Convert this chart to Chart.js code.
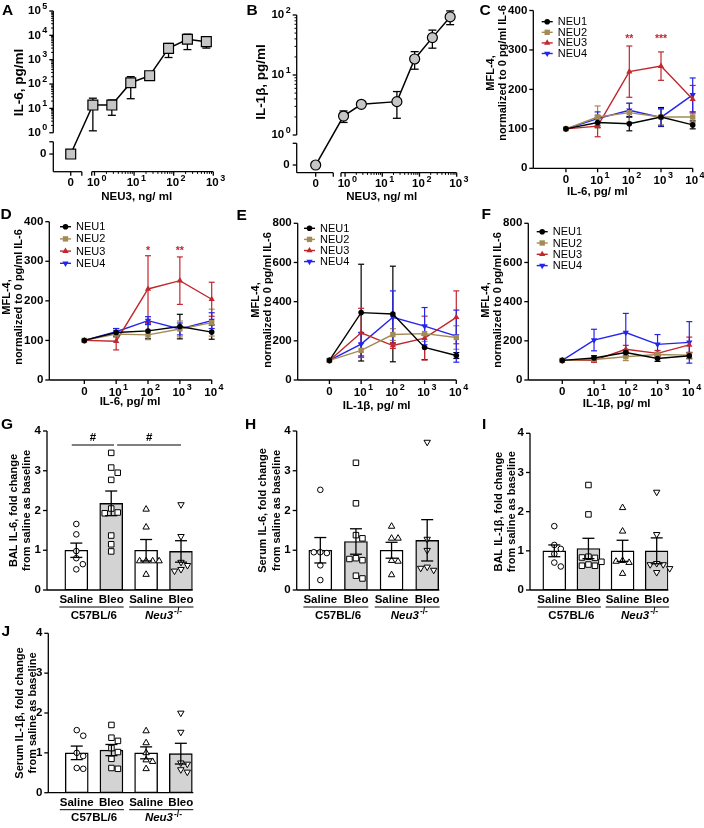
<!DOCTYPE html>
<html>
<head>
<meta charset="utf-8">
<title>NEU3 and cytokines</title>
<script src="https://cdn.jsdelivr.net/npm/chart.js@4.4.1/dist/chart.umd.min.js"></script>
<style>
  html, body { margin: 0; padding: 0; background: #fff; }
  #wrap { position: relative; width: 704px; height: 828px; overflow: hidden; background: #fff; }
  #wrap canvas { position: absolute; left: 0; top: 0; }
</style>
</head>
<body>
<div id="wrap"></div>
<script>
// ---------- values ----------

// A, B: cytokine release vs NEU3 (ng/ml); the 0 dose sits on the broken part of the axes
const neu3Conc = [0, 0.91, 2.74, 8.23, 24.7, 74.1, 222, 667];
const il6Mean  = [0, 13.7, 13.7, 113, 220, 2930, 6900, 5500];
const il6Sem   = [0, 12.5, 8.5, 88, 20, 1700, 4300, 2500];
const il1bConc = [0, 0.91, 2.74, 24.7, 74.1, 222, 667];
const il1bMean = [0, 2.07, 3.25, 3.6, 18.5, 42, 93];
const il1bSem  = [0, 0.45, 0.2, 1.7, 6, 14, 24];
const aYExp = [0, 1, 2, 3, 4, 5];
const bYExp = [0, 1, 2];
const abXExp = [0, 1, 2, 3];

// C-F: MFL-4 signal, doses 0, 10^1 .. 10^4 pg/ml
const doseExp = [null, 1, 2, 3, 4];
const neuNames = ['NEU1', 'NEU2', 'NEU3', 'NEU4'];

const cNeu1 = [100, 116, 113, 130, 110], cNeu1Sem = [0, 12, 18, 24, 10];
const cNeu2 = [100, 130, 141, 130, 130], cNeu2Sem = [0, 28, 24, 20, 13];
const cNeu3 = [100, 107, 245, 259, 175], cNeu3Sem = [0, 27, 65, 36, 35];
const cNeu4 = [100, 126, 147, 129, 186], cNeu4Sem = [0, 17, 18, 22, 43];
const cStars = ['', '', '**', '***', ''];

const dNeu1 = [100, 120, 124, 135, 121], dNeu1Sem = [0, 10, 20, 31, 18];
const dNeu2 = [100, 116, 114, 129, 145], dNeu2Sem = [0, 8, 12, 20, 34];
const dNeu3 = [100, 98, 230, 251, 204], dNeu3Sem = [0, 22, 84, 60, 43];
const dNeu4 = [100, 122, 150, 129, 150], dNeu4Sem = [0, 8, 10, 15, 20];
const dStars = ['', '', '*', '**', ''];

const eNeu1 = [100, 344, 337, 166, 125], eNeu1Sem = [0, 247, 244, 62, 15];
const eNeu2 = [100, 151, 232, 237, 217], eNeu2Sem = [0, 35, 30, 40, 60];
const eNeu3 = [100, 241, 176, 214, 320], eNeu3Sem = [0, 125, 15, 112, 135];
const eNeu4 = [100, 183, 320, 275, 224], eNeu4Sem = [0, 60, 135, 95, 133];

const fNeu1 = [100, 112, 140, 110, 124], fNeu1Sem = [0, 12, 15, 15, 15];
const fNeu2 = [100, 105, 119, 130, 127], fNeu2Sem = [0, 10, 20, 12, 15];
const fNeu3 = [100, 100, 157, 136, 179], fNeu3Sem = [0, 10, 20, 15, 40];
const fNeu4 = [100, 204, 242, 182, 192], fNeu4Sem = [0, 55, 98, 50, 106];

// G-J: fold change from saline; groups Saline/Bleo in C57BL/6 and Neu3-/-
const groupNames = ['Saline', 'Bleo', 'Saline', 'Bleo'];
const foldTicks = [0, 1, 2, 3, 4];

const gSal    = [1.66, 1.40, 0.98, 0.80, 0.65, 0.52];
const gBleo   = [3.45, 3.08, 2.95, 2.77, 2.05, 1.95, 1.93, 1.37, 1.15, 0.97];
const gKoSal  = [2.03, 1.58, 0.73, 0.73, 0.73, 0.73, 0.39];
const gKoBleo = [2.15, 1.35, 0.70, 0.62, 0.52, 0.48];
const gMean = [1.0, 2.18, 1.0, 0.97], gSem = [0.18, 0.31, 0.27, 0.27];

const hSal    = [2.52, 0.95, 0.93, 0.95, 0.62, 0.25];
const hBleo   = [3.2, 2.18, 1.38, 1.30, 0.80, 0.75, 0.78, 0.36, 0.29];
const hKoSal  = [1.6, 1.3, 1.3, 0.74, 0.72, 0.38];
const hKoBleo = [3.72, 1.28, 1.0, 0.58, 0.5, 0.55];
const hMean = [1.0, 1.22, 1.0, 1.25], hSem = [0.32, 0.32, 0.2, 0.52];

const iSal    = [1.63, 1.15, 1.05, 0.92, 0.70, 0.60];
const iBleo   = [2.68, 1.93, 0.85, 0.82, 0.83, 0.72, 0.65, 0.62, 0.62];
const iKoSal  = [2.1, 1.5, 0.75, 0.70, 0.73, 0.42];
const iKoBleo = [2.5, 1.42, 0.68, 0.65, 0.65, 0.45, 0.55];
const iMean = [1.0, 1.06, 1.0, 1.0], iSem = [0.15, 0.26, 0.27, 0.33];

const jSal    = [1.57, 1.43, 1.0, 0.92, 0.62, 0.6];
const jBleo   = [1.7, 1.38, 1.3, 1.12, 1.02, 0.85, 0.62, 0.6];
const jKoSal  = [1.55, 1.25, 1.0, 0.82, 0.78, 0.6];
const jKoBleo = [2.0, 1.52, 0.75, 0.72, 0.58, 0.52];
const jMean = [1.0, 1.07, 1.0, 0.98], jSem = [0.17, 0.14, 0.15, 0.26];

// ---------- styles & layout ----------
const W = 704, H = 828;
const FONT = '"Liberation Sans", Arial, Helvetica, sans-serif';
const neuColors = ['#000000', '#a38b57', '#c1272d', '#2424ee'];
const neuShapes = [['circle', 0, 2.8], ['rect', 0, 3.8], ['triangle', 0, 3.6], ['triangle', 180, 3.6]];
const groupShapes = [['circle', 0, 2.8], ['rect', 0, 3.9], ['triangle', 0, 3.7], ['triangle', 180, 3.7]];

const LA = {l: 53.3, r: 213.3, t: 11, b: 171.7, xMin: -1.04, xMax: 3, xZero: -0.6, yMin: -1.6, yMax: 5, yZero: -0.875, xGap: [-0.32, -0.07], yGap: [-0.37, 0]};
const LB = {l: 296.7, r: 456.7, t: 15, b: 172.7, xMin: -1.30, xMax: 3, xZero: -0.79, yMin: -0.628, yMax: 2, yZero: -0.5, xGap: [-0.317, -0.11], yGap: [-0.138, 0]};
const LC = {l: 533.3, r: 692.7, t: 10.5, b: 168.3, xMin: -1.03, yMax: 400, yStep: 100};
const LD = {l: 49.3, r: 211.7, t: 221.7, b: 380, xMin: -1.10, yMax: 400, yStep: 100};
const LE = {l: 297.7, r: 456.3, t: 223.3, b: 380, xMin: -1.0, yMax: 800, yStep: 200};
const LF = {l: 528.3, r: 689.3, t: 223.3, b: 380, xMin: -1.07, yMax: 800, yStep: 200};
const LG = {l: 47, r: 192.7, t: 431, b: 590, xMin: -0.84, xMax: 3.335};
const LH = {l: 296.7, r: 439.3, t: 431, b: 590, xMin: -0.663, xMax: 3.34};
const LI = {l: 530, r: 668.3, t: 433.3, b: 590, xMin: -0.712, xMax: 3.34};
const LJ = {l: 48.3, r: 193.3, t: 633.3, b: 792.7, xMin: -0.82, xMax: 3.36};

// ---------- helpers ----------
function fnt(size, weight, style) { return (style || 'normal') + ' ' + (weight || 'bold') + ' ' + size + 'px ' + FONT; }

function makeCanvas() {
  const c = document.createElement('canvas');
  c.width = W; c.height = H;
  document.getElementById('wrap').appendChild(c);
  return c;
}

function baseOptions(L, xr, yr) {
  return {
    responsive: false, animation: false, devicePixelRatio: 1, events: [],
    layout: {padding: {left: L.l, top: L.t, right: W - L.r, bottom: H - L.b}},
    plugins: {legend: {display: false}, tooltip: {enabled: false}},
    scales: {
      x: {type: 'linear', display: false, offset: false, min: xr[0], max: xr[1]},
      y: {type: 'linear', display: false, min: yr[0], max: yr[1]}
    }
  };
}

function seg(ctx, x1, y1, x2, y2) { ctx.beginPath(); ctx.moveTo(x1, y1); ctx.lineTo(x2, y2); ctx.stroke(); }

function text(ctx, s, x, y, o) {
  o = o || {};
  ctx.save();
  ctx.font = fnt(o.size || 11.5, o.weight, o.style);
  ctx.fillStyle = o.color || '#000';
  ctx.textAlign = o.align || 'center';
  ctx.textBaseline = o.base || 'middle';
  ctx.translate(x, y);
  if (o.rot) ctx.rotate(o.rot);
  ctx.fillText(s, 0, 0);
  ctx.restore();
}

function letter(ctx, s, x, y) { text(ctx, s, x, y, {size: 15.5, align: 'left', base: 'alphabetic'}); }

function pow10(ctx, e, x, y, align, size) {
  ctx.save();
  ctx.fillStyle = '#000'; ctx.textBaseline = 'middle'; ctx.textAlign = 'left';
  ctx.font = fnt(size);
  const wb = ctx.measureText('10').width;
  const es = size * 0.78;
  ctx.font = fnt(es);
  const we = ctx.measureText(String(e)).width;
  const x0 = align === 'right' ? x - wb - 1.5 - we : x - wb / 2 - 1;
  ctx.font = fnt(size); ctx.fillText('10', x0, y);
  ctx.font = fnt(es); ctx.fillText(String(e), x0 + wb + 1.5, y - size * 0.42);
  ctx.restore();
}

function errBar(ctx, x, yHi, yLo, cap, color, lw) {
  ctx.save();
  ctx.strokeStyle = color; ctx.lineWidth = lw;
  seg(ctx, x, yHi, x, yLo);
  seg(ctx, x - cap / 2, yHi, x + cap / 2, yHi);
  seg(ctx, x - cap / 2, yLo, x + cap / 2, yLo);
  ctx.restore();
}

function marker(ctx, shape, x, y, fill, stroke, lw) {
  const r = shape[2];
  ctx.save();
  ctx.translate(x, y); ctx.rotate(shape[1] * Math.PI / 180);
  ctx.beginPath();
  if (shape[0] === 'circle') ctx.arc(0, 0, r, 0, Math.PI * 2);
  else if (shape[0] === 'rect') { const s = r * Math.SQRT1_2; ctx.rect(-s, -s, 2 * s, 2 * s); }
  else { ctx.moveTo(0, -r); ctx.lineTo(r * 0.866, r * 0.5); ctx.lineTo(-r * 0.866, r * 0.5); ctx.closePath(); }
  ctx.fillStyle = fill; ctx.fill();
  if (lw) { ctx.strokeStyle = stroke; ctx.lineWidth = lw; ctx.stroke(); }
  ctx.restore();
}

// horizontal spread so that points of one group do not overlap
function swarm(vals, pxY, d) {
  const placed = [];
  return vals.map(v => {
    const y = v * pxY;
    for (let k = 0; k < 40; k++) {
      const off = k === 0 ? 0 : (k % 2 ? 1 : -1) * Math.ceil(k / 2) * d;
      if (placed.every(p => Math.hypot(p.x - off, p.y - y) >= d)) { placed.push({x: off, y}); return off; }
    }
    return 0;
  });
}

// ---------- A / B : broken log-log axes ----------
function logPanel(L, conc, mean, sem, shape, yExp, t) {
  const xPos = v => v > 0 ? Math.log10(v) : L.xZero;
  const yPos = v => v > 0 ? Math.log10(v) : L.yZero;
  new Chart(makeCanvas(), {
    type: 'line',
    data: {datasets: [{
      data: conc.map((v, i) => ({x: xPos(v), y: yPos(mean[i])})),
      borderColor: '#000', borderWidth: 1.5, tension: 0, clip: false,
      pointStyle: shape[0], pointRadius: shape[1],
      pointBackgroundColor: '#c6c6c6', pointBorderColor: '#000', pointBorderWidth: 1.2
    }]},
    options: baseOptions(L, [L.xMin, L.xMax], [L.yMin, L.yMax]),
    plugins: [{
      id: 'logAxes',
      beforeDatasetsDraw(chart) {
        const ctx = chart.ctx, xs = chart.scales.x, ys = chart.scales.y;
        const X = v => xs.getPixelForValue(v), Y = v => ys.getPixelForValue(v);
        ctx.save();
        ctx.strokeStyle = '#000'; ctx.lineWidth = 1.3;
        const ax = X(L.xMin), ay = Y(L.yMin);
        // y axis, two pieces
        seg(ctx, ax, ay, ax, Y(L.yGap[0]));
        seg(ctx, ax, Y(L.yGap[1]), ax, Y(L.yMax));
        seg(ctx, ax - 4, Y(L.yGap[0]), ax, Y(L.yGap[0]));
        // x axis, two pieces
        seg(ctx, ax, ay, X(L.xGap[0]), ay);
        seg(ctx, X(L.xGap[1]), ay, X(L.xMax), ay);
        seg(ctx, X(L.xGap[0]), ay, X(L.xGap[0]), ay + 4);
        seg(ctx, X(L.xGap[1]), ay, X(L.xGap[1]), ay + 4);
        // y ticks
        seg(ctx, ax - 4, Y(L.yZero), ax, Y(L.yZero));
        text(ctx, '0', ax - 7, Y(L.yZero), {align: 'right', size: 11.5});
        yExp.forEach((e, i) => {
          seg(ctx, ax - 4, Y(e), ax, Y(e));
          pow10(ctx, e, ax - 6, Y(e), 'right', 11.5);
          if (i < yExp.length - 1) for (let m = 2; m < 10; m++) {
            const y = Y(e + Math.log10(m));
            ctx.lineWidth = 1; seg(ctx, ax - 2.2, y, ax, y); ctx.lineWidth = 1.3;
          }
        });
        // x ticks
        seg(ctx, X(L.xZero), ay, X(L.xZero), ay + 4);
        text(ctx, '0', X(L.xZero), ay + 11.5, {size: 11.5});
        abXExp.forEach((e, i) => {
          seg(ctx, X(e), ay, X(e), ay + 4);
          pow10(ctx, e, X(e), ay + 11.5, 'center', 11.5);
          if (i < abXExp.length - 1) for (let m = 2; m < 10; m++) {
            const x = X(e + Math.log10(m));
            ctx.lineWidth = 1; seg(ctx, x, ay, x, ay + 2.2); ctx.lineWidth = 1.3;
          }
        });
        // SEM bars
        conc.forEach((v, i) => {
          if (!sem[i]) return;
          const lo = mean[i] - sem[i];
          errBar(ctx, X(xPos(v)), Y(Math.log10(mean[i] + sem[i])), lo > 0 ? Y(Math.log10(lo)) : ay, 8, '#000', 1.3);
        });
        ctx.restore();
      },
      afterDatasetsDraw(chart) {
        const ctx = chart.ctx;
        letter(ctx, t.letter, t.lx, t.ly);
        text(ctx, t.yTitle, t.ytx, t.yty, {rot: -Math.PI / 2, size: 13.5});
        text(ctx, t.xTitle, t.xtx, t.xty, {size: 11.5});
      }
    }]
  });
}

// ---------- C-F : MFL-4 lines ----------
function mflPanel(L, means, sems, stars, t) {
  const datasets = means.map((m, i) => ({
    data: m.map((v, k) => ({x: k, y: v})),
    borderColor: neuColors[i], backgroundColor: neuColors[i], borderWidth: 1.4,
    pointStyle: neuShapes[i][0], pointRotation: neuShapes[i][1], pointRadius: neuShapes[i][2],
    pointBorderWidth: 0, tension: 0, clip: false
  }));
  new Chart(makeCanvas(), {
    type: 'line',
    data: {datasets},
    options: baseOptions(L, [L.xMin, 4], [0, L.yMax]),
    plugins: [{
      id: 'mflAxes',
      beforeDatasetsDraw(chart) {
        const ctx = chart.ctx, xs = chart.scales.x, ys = chart.scales.y;
        const X = v => xs.getPixelForValue(v), Y = v => ys.getPixelForValue(v);
        ctx.save();
        ctx.strokeStyle = '#000'; ctx.lineWidth = 1.3;
        const ax = L.l, ay = L.b;
        seg(ctx, ax, Y(L.yMax), ax, ay);
        seg(ctx, ax, ay, X(4), ay);
        for (let v = 0; v <= L.yMax; v += L.yStep) {
          seg(ctx, ax - 4, Y(v), ax, Y(v));
          text(ctx, String(v), ax - 6, Y(v), {align: 'right', size: 11.5});
        }
        doseExp.forEach((e, k) => {
          seg(ctx, X(k), ay, X(k), ay + 4);
          if (e === null) text(ctx, '0', X(k), ay + 12, {size: 11.5});
          else pow10(ctx, e, X(k), ay + 12.5, 'center', 11.5);
        });
        means.forEach((m, i) => m.forEach((v, k) => {
          const s = sems[i][k];
          if (!s) return;
          errBar(ctx, X(k), Y(v + s), Y(v - s), 6, neuColors[i], 1.2);
        }));
        ctx.restore();
      },
      afterDatasetsDraw(chart) {
        const ctx = chart.ctx, xs = chart.scales.x;
        ctx.save();
        neuNames.forEach((n, i) => {
          const y = t.legY + i * t.legDy;
          ctx.strokeStyle = neuColors[i]; ctx.lineWidth = 1.4;
          seg(ctx, t.legX, y, t.legX + 11, y);
          marker(ctx, neuShapes[i], t.legX + 5.5, y, neuColors[i], neuColors[i], 0);
          text(ctx, n, t.legX + 16, y + 0.5, {align: 'left', size: 11, weight: 'normal'});
        });
        stars.forEach((s, k) => { if (s) text(ctx, s, xs.getPixelForValue(k), t.starY, {size: 10.5, color: neuColors[2]}); });
        ctx.restore();
        letter(ctx, t.letter, t.lx, t.ly);
        text(ctx, 'MFL-4,', L.l - 42, t.yty, {rot: -Math.PI / 2, size: 11});
        text(ctx, 'normalized to 0 pg/ml IL-6', L.l - 30, t.yty, {rot: -Math.PI / 2, size: 11});
        text(ctx, t.xTitle, t.xtx, t.xty, {size: 11.5});
      }
    }]
  });
}

// ---------- G-J : bars with individual points ----------
function foldPanel(L, groups, mean, sem, t) {
  const pxX = (L.r - L.l) / (L.xMax - L.xMin);
  const pxY = (L.b - L.t) / 4;
  const datasets = [{
    type: 'bar',
    data: mean.map((m, i) => ({x: i, y: m})),
    backgroundColor: ['#ffffff', '#d3d3d3', '#ffffff', '#d3d3d3'],
    borderColor: '#000', borderWidth: 1.4, borderSkipped: false, barThickness: 23, order: 3
  }];
  groups.forEach((vals, i) => {
    const offs = swarm(vals, pxY, 6.5);
    datasets.push({
      type: 'scatter', order: 1, clip: false,
      data: vals.map((v, k) => ({x: i + offs[k] / pxX, y: v})),
      pointStyle: groupShapes[i][0], pointRotation: groupShapes[i][1], pointRadius: groupShapes[i][2],
      pointBackgroundColor: '#ffffff', pointBorderColor: '#000', pointBorderWidth: 1
    });
  });
  new Chart(makeCanvas(), {
    type: 'bar',
    data: {datasets},
    options: baseOptions(L, [L.xMin, L.xMax], [0, 4]),
    plugins: [{
      id: 'foldAxes',
      beforeDatasetsDraw(chart) {
        const ctx = chart.ctx, ys = chart.scales.y;
        ctx.save();
        ctx.strokeStyle = '#000'; ctx.lineWidth = 1.3;
        seg(ctx, L.l, L.t, L.l, L.b);
        seg(ctx, L.l, L.b, L.r, L.b);
        foldTicks.forEach(v => {
          seg(ctx, L.l - 4, ys.getPixelForValue(v), L.l, ys.getPixelForValue(v));
          text(ctx, String(v), L.l - 6, ys.getPixelForValue(v), {align: 'right', size: 11.5});
        });
        ctx.restore();
      },
      afterDatasetsDraw(chart) {
        const ctx = chart.ctx, xs = chart.scales.x, ys = chart.scales.y;
        const X = v => xs.getPixelForValue(v), Y = v => ys.getPixelForValue(v);
        mean.forEach((m, i) => errBar(ctx, X(i), Y(m + sem[i]), Y(m - sem[i]), 12, '#000', 1.3));
        ctx.save();
        ctx.font = fnt(11.5);
        const wS = ctx.measureText('Saline').width, wB = ctx.measureText('Bleo').width;
        groupNames.forEach((g, i) => text(ctx, g, X(i), L.b + 10, {size: 11.5}));
        ctx.strokeStyle = '#000'; ctx.lineWidth = 1;
        seg(ctx, X(0) - wS / 2, L.b + 17, X(1) + wB / 2, L.b + 17);
        seg(ctx, X(2) - wS / 2, L.b + 17, X(3) + wB / 2, L.b + 17);
        text(ctx, 'C57BL/6', (X(0) + X(1)) / 2, L.b + 25.5, {size: 11.5});
        // Neu3-/- with superscript
        const cx = (X(2) + X(3)) / 2, cy = L.b + 25.5;
        ctx.font = fnt(11.5, 'bold', 'italic');
        const w1 = ctx.measureText('Neu3').width;
        ctx.font = fnt(8.5);
        const w2 = ctx.measureText('-/-').width;
        const x0 = cx - (w1 + w2 + 1) / 2;
        text(ctx, 'Neu3', x0, cy, {size: 11.5, style: 'italic', align: 'left'});
        text(ctx, '-/-', x0 + w1 + 1, cy - 4, {size: 8.5, align: 'left'});
        ctx.restore();
        if (t.marks) t.marks.forEach(mk => {
          ctx.save(); ctx.strokeStyle = '#000'; ctx.lineWidth = 1;
          seg(ctx, X(mk.from), mk.y, X(mk.to), mk.y);
          ctx.restore();
          text(ctx, '#', (X(mk.from) + X(mk.to)) / 2, mk.y - 7, {size: 11.5});
        });
        letter(ctx, t.letter, t.lx, t.ly);
        const my = (L.t + L.b) / 2;
        text(ctx, t.yTitle, t.ytx1, my, {rot: -Math.PI / 2, size: 11});
        text(ctx, 'from saline as baseline', t.ytx2, my, {rot: -Math.PI / 2, size: 11});
      }
    }]
  });
}

// ---------- build the figure ----------
logPanel(LA, neu3Conc, il6Mean, il6Sem, ['rect', 7], aYExp,
  {letter: 'A', lx: 2, ly: 14.5, yTitle: 'IL-6, pg/ml', ytx: 19, yty: 82.5, xTitle: 'NEU3, ng/ ml', xtx: 136.7, xty: 196.7});
logPanel(LB, il1bConc, il1bMean, il1bSem, ['circle', 5], bYExp,
  {letter: 'B', lx: 246.5, ly: 14.5, yTitle: 'IL-1\u03b2, pg/ml', ytx: 261.7, yty: 82, xTitle: 'NEU3, ng/ ml', xtx: 381.7, xty: 196.7});

mflPanel(LC, [cNeu1, cNeu2, cNeu3, cNeu4], [cNeu1Sem, cNeu2Sem, cNeu3Sem, cNeu4Sem], cStars,
  {letter: 'C', lx: 479.5, ly: 15, legX: 541.7, legY: 21.7, legDy: 10.6, starY: 39.3, yty: 73, xTitle: 'IL-6, pg/ ml', xtx: 597.3, xty: 191.7});
mflPanel(LD, [dNeu1, dNeu2, dNeu3, dNeu4], [dNeu1Sem, dNeu2Sem, dNeu3Sem, dNeu4Sem], dStars,
  {letter: 'D', lx: 0.5, ly: 219, legX: 60, legY: 226.7, legDy: 12.2, starY: 250.7, yty: 297, xTitle: 'IL-6, pg/ ml', xtx: 130, xty: 401.7});
mflPanel(LE, [eNeu1, eNeu2, eNeu3, eNeu4], [eNeu1Sem, eNeu2Sem, eNeu3Sem, eNeu4Sem], ['', '', '', '', ''],
  {letter: 'E', lx: 236.5, ly: 219.5, legX: 304, legY: 228.3, legDy: 11.1, starY: 0, yty: 300, xTitle: 'IL-1\u03b2, pg/ ml', xtx: 376.7, xty: 406});
mflPanel(LF, [fNeu1, fNeu2, fNeu3, fNeu4], [fNeu1Sem, fNeu2Sem, fNeu3Sem, fNeu4Sem], ['', '', '', '', ''],
  {letter: 'F', lx: 481.5, ly: 219, legX: 536.7, legY: 231.7, legDy: 11.3, starY: 0, yty: 300, xTitle: 'IL-1\u03b2, pg/ ml', xtx: 616.7, xty: 404});

foldPanel(LG, [gSal, gBleo, gKoSal, gKoBleo], gMean, gSem,
  {letter: 'G', lx: 1, ly: 429, yTitle: 'BAL IL-6, fold change', ytx1: 14, ytx2: 27,
   marks: [{from: -0.13, to: 1.08, y: 445}, {from: 1.17, to: 3, y: 445}]});
foldPanel(LH, [hSal, hBleo, hKoSal, hKoBleo], hMean, hSem,
  {letter: 'H', lx: 245, ly: 429, yTitle: 'Serum IL-6, fold change', ytx1: 263.3, ytx2: 276.7});
foldPanel(LI, [iSal, iBleo, iKoSal, iKoBleo], iMean, iSem,
  {letter: 'I', lx: 482, ly: 429, yTitle: 'BAL IL-1\u03b2, fold change', ytx1: 499, ytx2: 512});
foldPanel(LJ, [jSal, jBleo, jKoSal, jKoBleo], jMean, jSem,
  {letter: 'J', lx: 1.5, ly: 636, yTitle: 'Serum IL-1\u03b2, fold change', ytx1: 19.5, ytx2: 33});
</script>
</body>
</html>
